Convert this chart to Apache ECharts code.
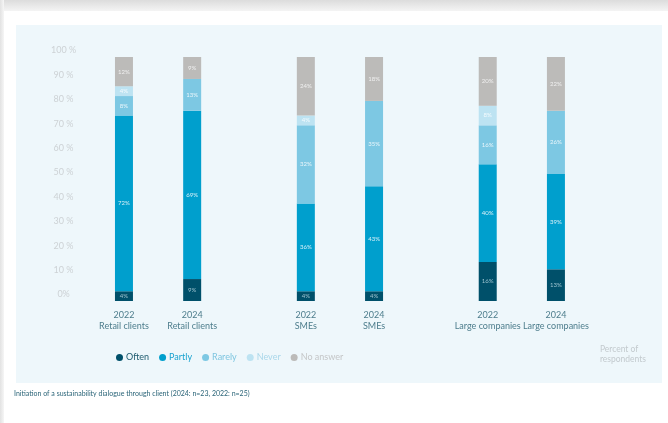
<!DOCTYPE html>
<html><head><meta charset="utf-8">
<script src="https://cdn.jsdelivr.net/npm/echarts@6/dist/echarts.min.js"></script>
<style>
html,body{margin:0;padding:0;background:#fff;}
#wrap{position:relative;width:668px;height:423px;overflow:hidden;background:#fff;}
#topshadow{position:absolute;left:0;top:0;width:668px;height:11px;background:linear-gradient(#dcdcdc,#f4f4f4);}
#leftshadow{position:absolute;left:0;top:0;width:4px;height:423px;background:linear-gradient(90deg,#e2e2e2,#f6f6f6);}
#chart{position:absolute;left:0;top:0;width:668px;height:423px;}
</style></head>
<body><div id="wrap"><div id="topshadow"></div><div id="leftshadow"></div><div id="chart"></div></div>
<script>
// categories (blank entries are spacing slots between bars/groups)
const categories = ['2022\nRetail clients','','','2024\nRetail clients','','','','','2022\nSMEs','','','2024\nSMEs','','','','','2022\nLarge companies','','','2024\nLarge companies'];
const barSlots = [0,3,8,11,16,19];
const seriesNames = ['Often','Partly','Rarely','Never','No answer'];
const often    = [4, 9, 4, 4, 16, 13];
const partly   = [72, 69, 36, 43, 40, 39];
const rarely   = [8, 13, 32, 35, 16, 26];
const never    = [4, null, 4, null, 8, null];
const noAnswer = [12, 9, 24, 18, 20, 22];
const yTicks = [0,10,20,30,40,50,60,70,80,90,100];

const colors = ['#00506a','#009fcd','#7dc8e3','#bde3f2','#bcbbb9'];
const legendText = ['#1d5a6e','#1aa3d0','#7fc6e0','#a9d7ea','#c4c6c7'];
const labelColors = ['#9cc3cf','#d8f0f8','#eaf6fb','#f4fbfe','#f0f0f0'];

function spread(vals){
  const arr = categories.map(()=> '-');
  barSlots.forEach((s,i)=>{ arr[s] = (vals[i]==null ? '-' : vals[i]); });
  return arr;
}
const allData = [often, partly, rarely, never, noAnswer];

const chart = echarts.init(document.getElementById('chart'), null, {renderer:'canvas'});
const FONT = 'Lato, "Noto Sans", sans-serif';
chart.setOption({
  animation:false,
  textStyle:{fontFamily:FONT},
  graphic:[
    {type:'rect', z:-10, shape:{x:4,y:11,width:664,height:412}, style:{fill:'#ffffff'}},
    {type:'rect', z:-9, shape:{x:16,y:25,width:646,height:358}, style:{fill:'#eef7fb'}},
    {type:'text', right:22, top:344, style:{text:'Percent of\nrespondents', fill:'#c3cace', font:'8.5px '+FONT, align:'right', lineHeight:10}},
    {type:'text', left:14, top:390, style:{text:'Initiation of a sustainability dialogue through client (2024: n=23, 2022: n=25)', fill:'#2a6478', font:'7px '+FONT}}
  ],
  grid:{left:112.6, right:100.7, top:57, bottom:122},
  legend:{
    left:111, top:348, itemWidth:7, itemHeight:7, itemGap:10, icon:'circle',
    data: seriesNames.map((n,i)=>({name:n, textStyle:{color:legendText[i]}})),
    textStyle:{fontSize:9, fontFamily:FONT, padding:[0,0,0,-2]}
  },
  xAxis:{
    type:'category', data:categories,
    axisLine:{show:false}, axisTick:{show:false},
    axisLabel:{interval:0, color:'#4d7d8c', fontSize:9, lineHeight:11, margin:9, fontFamily:FONT}
  },
  yAxis:{
    type:'value', min:0, max:100, interval:10,
    splitLine:{show:false}, axisLine:{show:false}, axisTick:{show:false},
    axisLabel:{
      color:'#cdd2d5', fontSize:9, align:'center', verticalAlign:'bottom', lineHeight:13, margin:49, fontFamily:FONT,
      formatter:(v)=> yTicks.includes(v) ? (v===0 ? '0%' : v+' %') : ''
    }
  },
  series: seriesNames.map((n,i)=>({
    name:n, type:'bar', stack:'total', barWidth:18,
    itemStyle:{color:colors[i]},
    label:{show:true, position:'inside', formatter:(p)=> p.value+'%', fontSize:6, color:labelColors[i], fontFamily:FONT},
    data: spread(allData[i])
  }))
});
</script></body></html>
